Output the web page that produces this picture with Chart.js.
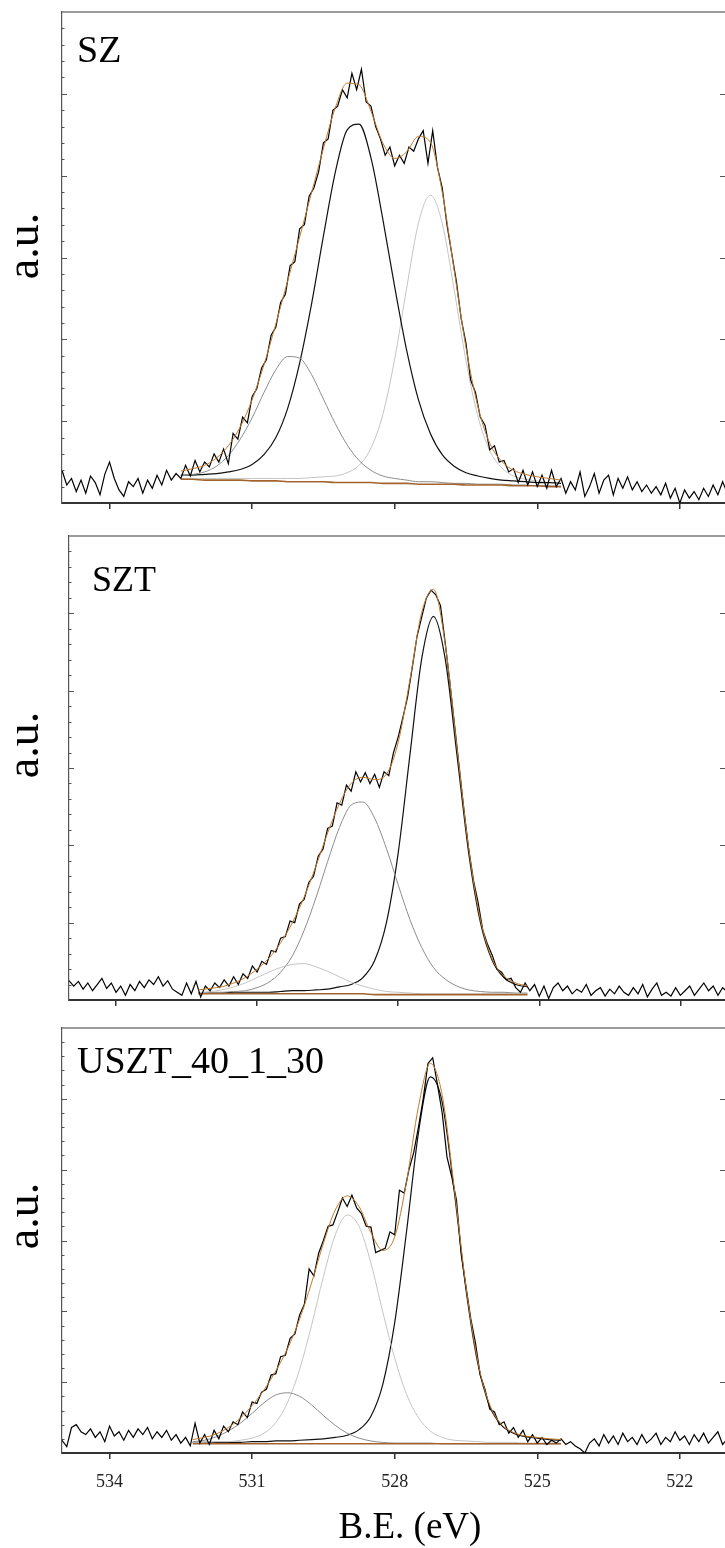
<!DOCTYPE html>
<html>
<head>
<meta charset="utf-8">
<title>O 1s XPS fits</title>
<script src="https://cdn.jsdelivr.net/npm/chart.js@4.4.1/dist/chart.umd.min.js"></script>
<style>
  html, body { margin: 0; padding: 0; background: #fff; overflow: hidden; }
  body { width: 725px; height: 1548px; position: relative; }
  canvas { position: absolute; left: 0; }
</style>
</head>
<body>
<canvas id="sz" width="725" height="520" style="top:0"></canvas>
<canvas id="szt" width="725" height="500" style="top:520px"></canvas>
<canvas id="uszt" width="725" height="528" style="top:1020px"></canvas>
<script>
// energy grids: raw spectra 535 -> 521 eV every 0.1 eV, fitted curves every 0.25 eV
const rawStart = 535.0, rawStep = 0.1;
const fitStep = 0.25;
const xTickValues = [534, 531, 528, 525, 522];

// ---- SZ ----
const szRaw = [
  0.40, 0.22, 0.30, 0.14, 0.28, 0.12, 0.33, 0.25, 0.10, 0.35,
  0.50, 0.30, 0.16, 0.08, 0.26, 0.20, 0.30, 0.12, 0.28, 0.18,
  0.34, 0.22, 0.40, 0.28, 0.36, 0.30, 0.46, 0.33, 0.52, 0.38,
  0.50, 0.44, 0.60, 0.50, 0.66, 0.48, 0.85, 0.78, 1.05, 0.98,
  1.30, 1.40, 1.65, 1.75, 2.05, 2.15, 2.45, 2.55, 2.90, 2.95,
  3.35, 3.40, 3.75, 3.85, 4.05, 4.40, 4.45, 4.80, 4.85, 5.05,
  4.95, 5.25, 5.05, 5.30, 4.90, 4.85, 4.60, 4.45, 4.25, 4.35,
  4.12, 4.25, 4.15, 4.35, 4.30, 4.45, 4.55, 4.15, 4.55, 4.10,
  3.85, 3.40, 3.05, 2.70, 2.25, 1.95, 1.50, 1.35, 1.05, 0.95,
  0.65, 0.70, 0.50, 0.52, 0.38, 0.42, 0.25, 0.40, 0.22, 0.38,
  0.20, 0.34, 0.18, 0.40, 0.20, 0.30, 0.12, 0.26, 0.16, 0.38,
  0.08, 0.20, 0.36, 0.12, 0.28, 0.34, 0.10, 0.30, 0.18, 0.32,
  0.16, 0.26, 0.14, 0.22, 0.12, 0.20, 0.10, 0.24, 0.06, 0.18,
  0.00, 0.16, 0.06, 0.14, 0.04, 0.18, 0.08, 0.22, 0.10, 0.26,
  0.12
];
const szFitStart = 532.5;
const szBg = [0.29, 0.29, 0.28, 0.28, 0.28, 0.28, 0.27, 0.27, 0.27, 0.26, 0.26, 0.26, 0.26, 0.25, 0.25, 0.25, 0.25,
  0.24, 0.24, 0.24, 0.23, 0.23, 0.23, 0.23, 0.22, 0.22, 0.22, 0.22, 0.21, 0.21, 0.21, 0.20, 0.20];
const szPeakGray = [0.33, 0.35, 0.38, 0.45, 0.58, 0.78, 1.04, 1.35, 1.63, 1.79, 1.77, 1.57, 1.27, 0.97, 0.71, 0.52, 0.40,
  0.33, 0.30, 0.28, 0.26, 0.26, 0.25, 0.24, 0.24, 0.23, 0.23, 0.23, 0.22, 0.22, 0.21, 0.21, 0.20];
const szPeakBlack = [0.34, 0.34, 0.35, 0.36, 0.38, 0.41, 0.47, 0.59, 0.80, 1.16, 1.71, 2.43, 3.26, 4.04, 4.56, 4.63, 4.22,
  3.47, 2.64, 1.87, 1.26, 0.85, 0.59, 0.45, 0.37, 0.33, 0.30, 0.28, 0.27, 0.26, 0.25, 0.25, 0.24];
const szPeakLight = [0.30, 0.30, 0.30, 0.30, 0.30, 0.30, 0.30, 0.30, 0.30, 0.30, 0.30, 0.31, 0.32, 0.33, 0.37, 0.46, 0.67,
  1.08, 1.76, 2.62, 3.42, 3.76, 3.42, 2.61, 1.74, 1.06, 0.64, 0.43, 0.33, 0.29, 0.27, 0.25, 0.24];
const szEnvelope = [0.39, 0.42, 0.46, 0.55, 0.70, 0.93, 1.26, 1.69, 2.19, 2.72, 3.25, 3.79, 4.33, 4.83, 5.13, 5.11, 4.79,
  4.40, 4.21, 4.29, 4.48, 4.41, 3.80, 2.85, 1.90, 1.18, 0.73, 0.51, 0.40, 0.35, 0.32, 0.30, 0.28];

// ---- SZT ----
const sztRaw = [
  0.25, 0.18, 0.24, 0.14, 0.22, 0.12, 0.20, 0.28, 0.15, 0.22,
  0.10, 0.18, 0.06, 0.20, 0.12, 0.24, 0.16, 0.26, 0.20, 0.30,
  0.18, 0.25, 0.14, 0.10, 0.06, 0.22, 0.08, 0.24, 0.04, 0.18,
  0.12, 0.22, 0.16, 0.26, 0.18, 0.30, 0.20, 0.34, 0.28, 0.44,
  0.36, 0.50, 0.46, 0.64, 0.62, 0.80, 0.82, 1.02, 1.00, 1.24,
  1.30, 1.52, 1.60, 1.86, 1.95, 2.22, 2.25, 2.55, 2.52, 2.78,
  2.70, 2.95, 2.82, 2.94, 2.80, 2.92, 2.75, 2.95, 2.90, 3.20,
  3.40, 3.65, 3.92, 4.30, 4.70, 4.95, 5.20, 5.30, 5.24, 5.10,
  4.62, 4.10, 3.55, 3.00, 2.45, 1.95, 1.55, 1.26, 0.90, 0.72,
  0.58, 0.40, 0.36, 0.26, 0.28, 0.16, 0.10, 0.22, 0.12, 0.20,
  0.05, 0.18, 0.02, 0.16, 0.22, 0.12, 0.18, 0.08, 0.14, 0.10,
  0.20, 0.06, 0.12, 0.16, 0.05, 0.14, 0.08, 0.18, 0.10, 0.06,
  0.16, 0.08, 0.20, 0.04, 0.14, 0.22, 0.06, 0.10, 0.05, 0.16,
  0.06, 0.12, 0.18, 0.06, 0.14, 0.22, 0.12, 0.18, 0.06, 0.16,
  0.10
];
const sztFitStart = 532.25;
const sztBg = [0.08, 0.08, 0.08, 0.08, 0.08, 0.08, 0.08, 0.08, 0.08, 0.08, 0.08, 0.08, 0.08, 0.08, 0.08,
  0.07, 0.07, 0.07, 0.07, 0.07, 0.07, 0.07, 0.07, 0.07, 0.07, 0.07, 0.07, 0.07, 0.07];
const sztPeakLight = [0.09, 0.11, 0.13, 0.17, 0.22, 0.29, 0.36, 0.42, 0.46, 0.47, 0.43, 0.37, 0.30, 0.23, 0.18,
  0.14, 0.11, 0.10, 0.09, 0.08, 0.08, 0.08, 0.08, 0.08, 0.08, 0.08, 0.08, 0.08, 0.08];
const sztPeakGray = [0.09, 0.10, 0.10, 0.11, 0.12, 0.16, 0.23, 0.36, 0.57, 0.90, 1.32, 1.79, 2.23, 2.52, 2.56,
  2.35, 1.96, 1.49, 1.04, 0.68, 0.42, 0.27, 0.18, 0.13, 0.11, 0.10, 0.10, 0.09, 0.09];
const sztPeakBlack = [0.09, 0.09, 0.09, 0.10, 0.10, 0.10, 0.10, 0.11, 0.12, 0.12, 0.13, 0.14, 0.17, 0.20, 0.29,
  0.51, 1.00, 1.90, 3.17, 4.41, 4.96, 4.41, 3.17, 1.90, 1.00, 0.51, 0.29, 0.20, 0.17];
const sztEnvelope = [0.13, 0.15, 0.17, 0.22, 0.29, 0.40, 0.54, 0.74, 1.00, 1.33, 1.73, 2.16, 2.54, 2.80, 2.88,
  2.85, 2.92, 3.33, 4.14, 5.01, 5.31, 4.60, 3.27, 1.96, 1.04, 0.53, 0.31, 0.22, 0.18];

// ---- USZT_40_1_30 ----
const usztRaw = [
  0.18, 0.09, 0.36, 0.40, 0.30, 0.26, 0.34, 0.22, 0.30, 0.16,
  0.38, 0.24, 0.30, 0.18, 0.32, 0.22, 0.34, 0.26, 0.36, 0.20,
  0.30, 0.22, 0.32, 0.18, 0.26, 0.14, 0.22, 0.10, 0.42, 0.14,
  0.26, 0.12, 0.32, 0.20, 0.38, 0.30, 0.44, 0.40, 0.58, 0.50,
  0.72, 0.70, 0.86, 0.90, 1.10, 1.12, 1.36, 1.38, 1.62, 1.68,
  1.95, 2.10, 2.60, 2.50, 2.82, 3.00, 3.20, 3.22, 3.40, 3.60,
  3.48, 3.64, 3.46, 3.38, 3.20, 3.19, 2.83, 2.86, 2.89, 3.12,
  3.08, 3.71, 3.67, 4.00, 4.24, 4.60, 5.00, 5.50, 5.58, 5.20,
  4.80, 4.18, 3.90, 3.57, 2.80, 2.35, 1.90, 1.55, 1.10, 0.90,
  0.62, 0.58, 0.40, 0.44, 0.28, 0.36, 0.22, 0.32, 0.16, 0.26,
  0.14, 0.22, 0.12, 0.18, 0.14, 0.20, 0.12, 0.16, 0.10, 0.06,
  0.00, 0.14, 0.20, 0.10, 0.26, 0.14, 0.24, 0.12, 0.28, 0.16,
  0.22, 0.12, 0.26, 0.14, 0.20, 0.28, 0.12, 0.22, 0.16, 0.30,
  0.18, 0.24, 0.12, 0.26, 0.16, 0.28, 0.14, 0.22, 0.30, 0.12,
  0.20
];
const usztFitStart = 532.25;
const usztBg = [0.13, 0.13, 0.13, 0.13, 0.13, 0.13, 0.13, 0.13, 0.13, 0.13, 0.13, 0.13, 0.13, 0.13, 0.13, 0.13,
  0.13, 0.13, 0.13, 0.13, 0.13, 0.13, 0.13, 0.13, 0.13, 0.13, 0.13, 0.13, 0.13, 0.13, 0.13, 0.13];
const usztPeakGray = [0.16, 0.18, 0.23, 0.31, 0.42, 0.56, 0.71, 0.82, 0.85, 0.80, 0.68, 0.53, 0.39, 0.28, 0.21, 0.17,
  0.15, 0.14, 0.14, 0.14, 0.14, 0.13, 0.13, 0.13, 0.13, 0.13, 0.13, 0.13, 0.13, 0.13, 0.13, 0.13];
const usztPeakLight = [0.15, 0.15, 0.16, 0.16, 0.18, 0.21, 0.28, 0.43, 0.72, 1.18, 1.80, 2.49, 3.08, 3.36, 3.20, 2.68,
  1.99, 1.34, 0.83, 0.50, 0.31, 0.22, 0.18, 0.17, 0.16, 0.15, 0.15, 0.15, 0.14, 0.14, 0.14, 0.14];
const usztPeakBlack = [0.15, 0.15, 0.15, 0.15, 0.15, 0.16, 0.16, 0.17, 0.17, 0.18, 0.19, 0.20, 0.22, 0.25, 0.33, 0.52,
  0.97, 1.84, 3.13, 4.52, 5.31, 4.95, 3.71, 2.31, 1.26, 0.66, 0.39, 0.28, 0.23, 0.21, 0.19, 0.18];
const usztEnvelope = [0.19, 0.22, 0.27, 0.36, 0.49, 0.67, 0.89, 1.16, 1.48, 1.89, 2.40, 2.96, 3.43, 3.63, 3.48, 3.11,
  2.86, 3.05, 3.83, 4.89, 5.50, 5.05, 3.76, 2.35, 1.29, 0.68, 0.40, 0.29, 0.24, 0.22, 0.20, 0.19];

const serif = "'Liberation Serif', 'Times New Roman', Times, serif";
const ink = { black: '#111111', gray: '#8c8c8c', light: '#c4c4c4', env: '#c27a2c', bg: '#a3632c', raw: '#000000' };

function pts(start, step, vals) {
  return vals.map((v, i) => ({ x: Math.round((start - i * step) * 100) / 100, y: v }));
}

function curve(data, color, width, order, smooth) {
  return {
    data, borderColor: color, borderWidth: width, pointRadius: 0, fill: false, order,
    tension: smooth ? 0.4 : 0, cubicInterpolationMode: smooth ? 'monotone' : 'default'
  };
}

// frame: top border, inward y ticks, sample name, a.u. label, axis title
const framePlugin = {
  id: 'frame',
  afterDraw(chart, args, o) {
    const { ctx, chartArea: a } = chart;
    const y = chart.scales.y;
    ctx.save();
    ctx.strokeStyle = '#7a7a7a';
    ctx.lineWidth = 1.5;
    ctx.beginPath();
    ctx.moveTo(a.left, a.top);
    ctx.lineTo(a.right, a.top);
    ctx.stroke();

    ctx.strokeStyle = '#555';
    ctx.lineWidth = 1;
    for (let k = 1; k < 30; k++) {
      const py = Math.round(y.getPixelForValue(k / 5)) + 0.5;
      const major = k % 5 === 0;
      ctx.beginPath();
      ctx.moveTo(a.left, py);
      ctx.lineTo(a.left + (major ? 5 : 2.5), py);
      ctx.stroke();
      if (major) {
        ctx.beginPath();
        ctx.moveTo(a.right - 5, py);
        ctx.lineTo(a.right, py);
        ctx.stroke();
      }
    }

    ctx.fillStyle = '#000';
    ctx.textAlign = 'left';
    ctx.textBaseline = 'alphabetic';
    ctx.font = o.nameSize + 'px ' + serif;
    ctx.fillText(o.name, o.nameX, o.nameY);

    if (o.title) {
      ctx.textAlign = 'center';
      ctx.font = '37px ' + serif;
      ctx.fillText(o.title, o.titleX, o.titleY);
    }

    ctx.translate(38, o.auY);
    ctx.rotate(-Math.PI / 2);
    ctx.textAlign = 'center';
    ctx.font = '46px ' + serif;
    ctx.fillText('a.u.', 0, 0);
    ctx.restore();
  }
};

function makePanel(id, p) {
  const datasets = [
    curve(pts(p.fitStart, fitStep, p.env), ink.env, 1, 0, true),
    curve(pts(rawStart, rawStep, p.raw), ink.raw, 1.2, 1, false),
    curve(pts(p.fitStart, fitStep, p.bg), ink.bg, 1.6, 2, true)
  ];
  p.peaks.forEach((pk, i) => datasets.push(curve(pts(p.fitStart, fitStep, pk.vals), ink[pk.color], pk.color === 'black' ? 1.2 : 1, 3 + i, true)));

  new Chart(document.getElementById(id), {
    type: 'line',
    data: { datasets },
    plugins: [framePlugin],
    options: {
      responsive: false,
      animation: false,
      layout: { padding: p.pad },
      plugins: { legend: { display: false }, tooltip: { enabled: false }, frame: p.text },
      scales: {
        x: {
          type: 'linear', reverse: true, min: 521.05, max: 535,
          afterBuildTicks: (s) => { s.ticks = xTickValues.map((v) => ({ value: v })); },
          afterFit: (s) => { s.height = p.xHeight; },
          grid: { display: true, drawOnChartArea: false, drawTicks: true, tickLength: 6, color: '#333', lineWidth: 1.5 },
          border: { display: true, color: '#333', width: 2 },
          ticks: { display: p.labels, padding: 12, color: '#222', font: { family: serif, size: 18 }, callback: (v) => String(v) }
        },
        y: {
          min: 0, max: 6,
          afterFit: (s) => { s.width = 0; },
          ticks: { display: false },
          grid: { display: false },
          border: { display: true, color: '#555', width: 1.2 }
        }
      }
    }
  });
}

makePanel('sz', {
  raw: szRaw, fitStart: szFitStart, bg: szBg, env: szEnvelope,
  peaks: [{ vals: szPeakGray, color: 'gray' }, { vals: szPeakBlack, color: 'black' }, { vals: szPeakLight, color: 'light' }],
  pad: { left: 62, top: 12, right: 0, bottom: 7 }, xHeight: 10, labels: false,
  text: { name: 'SZ', nameSize: 38, nameX: 77, nameY: 62, auY: 246 }
});

makePanel('szt', {
  raw: sztRaw, fitStart: sztFitStart, bg: sztBg, env: sztEnvelope,
  peaks: [{ vals: sztPeakLight, color: 'light' }, { vals: sztPeakGray, color: 'gray' }, { vals: sztPeakBlack, color: 'black' }],
  pad: { left: 69, top: 16, right: 0, bottom: 10 }, xHeight: 10, labels: false,
  text: { name: 'SZT', nameSize: 36, nameX: 92, nameY: 71, auY: 225 }
});

makePanel('uszt', {
  raw: usztRaw, fitStart: usztFitStart, bg: usztBg, env: usztEnvelope,
  peaks: [{ vals: usztPeakGray, color: 'gray' }, { vals: usztPeakLight, color: 'light' }, { vals: usztPeakBlack, color: 'black' }],
  pad: { left: 62, top: 8, right: 0, bottom: 55 }, xHeight: 40, labels: true,
  text: { name: 'USZT_40_1_30', nameSize: 38, nameX: 77, nameY: 53, auY: 196, title: 'B.E. (eV)', titleX: 410, titleY: 518 }
});
</script>
</body>
</html>
